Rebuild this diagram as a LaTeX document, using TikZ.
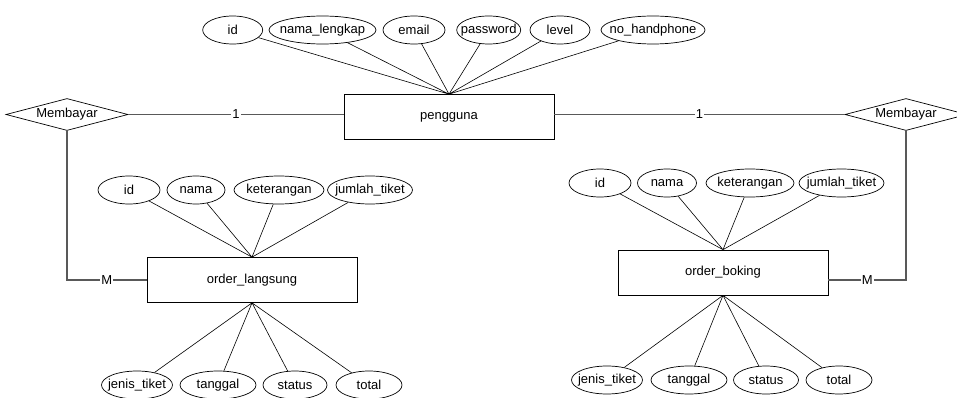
\documentclass[tikz,border=0pt]{standalone}
\usepackage{fontspec}
\setmainfont{Liberation Sans}
\usetikzlibrary{shapes.geometric}
\newcommand{\atr}[1]{\makebox[0pt]{#1}}
\begin{document}
\begin{tikzpicture}[x=1pt, y=1pt, font=\fontsize{13}{15}\selectfont,
  entitas/.style={draw, line width=0.7pt, minimum width=210, minimum height=45, inner sep=0},
  atribut/.style={draw, ellipse, line width=0.7pt, minimum width=#1, minimum height=28, inner sep=0},
  relasi/.style={draw, diamond, line width=0.7pt, shape aspect=4, minimum width=122, minimum height=32, inner sep=0},
  hubung/.style={draw=black!65, line width=1.1pt},
  kardinal/.style={fill=white, inner sep=1pt}]
\useasboundingbox (0,0) rectangle (957,-398);
% entitas dan relasi
\node[entitas] (pengguna) at (449,-117) {pengguna};
\node[entitas] (olangsung) at (252,-280) {order\_langsung};
\node[entitas] (oboking) at (723,-272.5) {order\_boking};
\node[relasi] (bayarkiri) at (67,-114.5) {Membayar};
\node[relasi] (bayarkanan) at (906,-114.5) {Membayar};
% atribut pengguna
\node[atribut=60] (pid) at (232.7,-30) {\atr{id}};
\node[atribut=107] (pnama) at (322.5,-30) {\atr{nama\_lengkap}};
\node[atribut=62] (pemail) at (414,-30) {\atr{email}};
\node[atribut=64] (ppass) at (488.7,-30) {\atr{password}};
\node[atribut=60] (plevel) at (560,-30) {\atr{level}};
\node[atribut=104] (php) at (653,-30) {\atr{no\_handphone}};
% atribut order_langsung
\node[atribut=62] (lid) at (129,-190) {\atr{id}};
\node[atribut=58] (lnama) at (196,-190) {\atr{nama}};
\node[atribut=90] (lket) at (279,-190) {\atr{keterangan}};
\node[atribut=85] (ljml) at (370,-190) {\atr{jumlah\_tiket}};
\node[atribut=71] (ljenis) at (137,-385) {\atr{jenis\_tiket}};
\node[atribut=76] (ltgl) at (218,-385) {\atr{tanggal}};
\node[atribut=64] (lstatus) at (295,-385) {\atr{status}};
\node[atribut=66] (ltotal) at (369,-385) {\atr{total}};
% atribut order_boking
\node[atribut=62] (rid) at (600,-183) {\atr{id}};
\node[atribut=59] (rnama) at (667,-183) {\atr{nama}};
\node[atribut=88] (rket) at (750,-183) {\atr{keterangan}};
\node[atribut=85] (rjml) at (841.5,-183) {\atr{jumlah\_tiket}};
\node[atribut=71] (rjenis) at (607,-380) {\atr{jenis\_tiket}};
\node[atribut=76] (rtgl) at (689,-380) {\atr{tanggal}};
\node[atribut=65] (rstatus) at (766,-380) {\atr{status}};
\node[atribut=66] (rtotal) at (839,-380) {\atr{total}};
% garis atribut
\draw[line width=0.6pt] (pid) -- (pengguna.north) (pnama) -- (pengguna.north) (pemail) -- (pengguna.north)
  (ppass) -- (pengguna.north) (plevel) -- (pengguna.north) (php) -- (pengguna.north);
\draw[line width=0.6pt] (lid) -- (olangsung.north) (lnama) -- (olangsung.north) (lket) -- (olangsung.north) (ljml) -- (olangsung.north);
\draw[line width=0.6pt] (ljenis) -- (olangsung.south) (ltgl) -- (olangsung.south) (lstatus) -- (olangsung.south) (ltotal) -- (olangsung.south);
\draw[line width=0.6pt] (rid) -- (oboking.north) (rnama) -- (oboking.north) (rket) -- (oboking.north) (rjml) -- (oboking.north);
\draw[line width=0.6pt] (rjenis) -- (oboking.south) (rtgl) -- (oboking.south) (rstatus) -- (oboking.south) (rtotal) -- (oboking.south);
% relasi
\draw[hubung] (bayarkiri.east) -- node[kardinal]{1} (bayarkiri.east -| pengguna.west);
\draw[hubung] (bayarkanan.west) -- node[kardinal]{1} (bayarkanan.west -| pengguna.east);
\draw[hubung] (bayarkiri.south) |- node[kardinal, pos=0.75]{M} (olangsung.west);
\draw[hubung] (bayarkanan.south) |- node[kardinal, pos=0.75]{M} ([yshift=-7.5]oboking.east);
\end{tikzpicture}
\end{document}
